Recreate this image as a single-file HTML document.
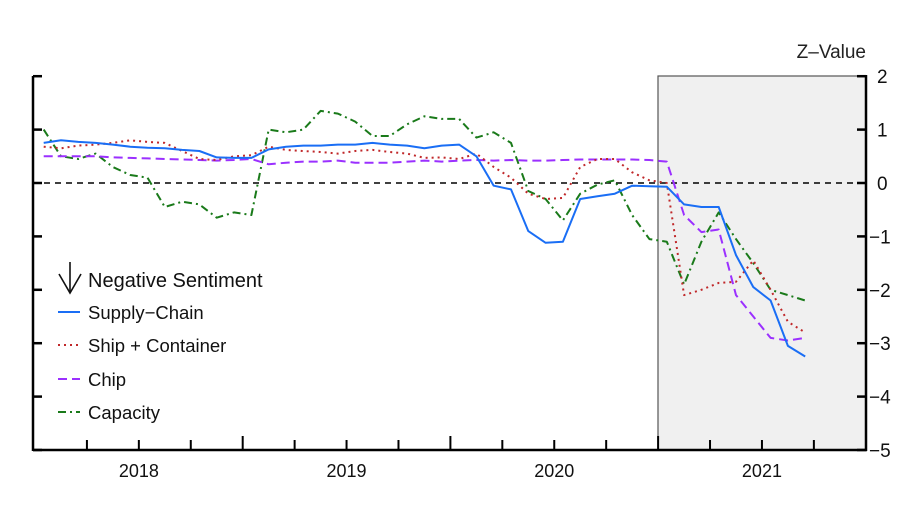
<!DOCTYPE html>
<html><head><meta charset="utf-8"><style>
html,body{margin:0;padding:0;background:#fff;}
svg{display:block;font-family:"Liberation Sans",Arial,sans-serif;}
</style></head><body>
<svg id="chart" width="918" height="517" viewBox="0 0 918 517">
<rect x="658" y="76" width="208" height="374" fill="#f0f0f0" stroke="#555" stroke-width="1.2"/>
<g id="axes"></g>
<g id="series"></g>
<text x="866" y="58" text-anchor="end" font-size="19" fill="#222">Z–Value</text>
<g>
<g stroke="#111" stroke-width="1.6" fill="none">
<line x1="70" y1="262" x2="70" y2="293"/>
<polyline points="59,274 70,293 81,274"/>
</g>
<text x="88" y="287" font-size="20" fill="#111">Negative Sentiment</text>
<line x1="58" y1="312" x2="80" y2="312" stroke="#1a6ef5" stroke-width="2"/>
<text x="88" y="319" font-size="18.5" fill="#111">Supply−Chain</text>
<line x1="58" y1="345" x2="80" y2="345" stroke="#c0282a" stroke-width="2" stroke-dasharray="2,4"/>
<text x="88" y="352" font-size="18.5" fill="#111">Ship + Container</text>
<line x1="58" y1="379" x2="80" y2="379" stroke="#9b30ff" stroke-width="2" stroke-dasharray="9,5"/>
<text x="88" y="386" font-size="18.5" fill="#111">Chip</text>
<line x1="58" y1="412" x2="80" y2="412" stroke="#1a7a1a" stroke-width="2" stroke-dasharray="8,4,2,4"/>
<text x="88" y="419" font-size="18.5" fill="#111">Capacity</text>
</g>
</svg>
<script>
const months = ["2018-01","2018-02","2018-03","2018-04","2018-05","2018-06","2018-07","2018-08","2018-09","2018-10","2018-11","2018-12",
"2019-01","2019-02","2019-03","2019-04","2019-05","2019-06","2019-07","2019-08","2019-09","2019-10","2019-11","2019-12",
"2020-01","2020-02","2020-03","2020-04","2020-05","2020-06","2020-07","2020-08","2020-09","2020-10","2020-11","2020-12",
"2021-01","2021-02","2021-03","2021-04","2021-05","2021-06","2021-07","2021-08","2021-09"];
const supplyChain = [0.75,0.8,0.77,0.75,0.72,0.68,0.66,0.65,0.62,0.6,0.48,0.47,0.47,0.63,0.68,0.7,0.7,0.72,0.72,0.75,0.72,0.7,0.65,0.7,0.72,0.5,-0.05,-0.12,-0.9,-1.12,-1.1,-0.3,-0.25,-0.2,-0.05,-0.06,-0.07,-0.4,-0.45,-0.45,-1.35,-1.95,-2.2,-3.05,-3.25];
const shipContainer = [0.68,0.65,0.7,0.72,0.75,0.8,0.77,0.75,0.6,0.45,0.43,0.5,0.52,0.68,0.62,0.6,0.58,0.55,0.6,0.62,0.58,0.55,0.47,0.48,0.45,0.55,0.3,0.1,-0.2,-0.3,-0.28,0.3,0.45,0.45,0.2,0.05,0.0,-2.1,-2.0,-1.87,-1.85,-1.45,-2.0,-2.6,-2.8];
const chip = [0.5,0.5,0.5,0.5,0.48,0.47,0.46,0.45,0.44,0.43,0.42,0.43,0.45,0.35,0.38,0.4,0.4,0.42,0.38,0.38,0.38,0.4,0.42,0.4,0.42,0.43,0.42,0.43,0.42,0.42,0.43,0.44,0.44,0.44,0.44,0.43,0.4,-0.6,-0.92,-0.87,-2.1,-2.5,-2.9,-2.95,-2.9];
const capacity = [1.0,0.5,0.45,0.55,0.3,0.15,0.1,-0.45,-0.35,-0.4,-0.65,-0.55,-0.6,1.0,0.95,1.0,1.35,1.3,1.15,0.88,0.88,1.1,1.25,1.2,1.2,0.85,0.95,0.75,-0.15,-0.3,-0.7,-0.2,-0.03,0.05,-0.6,-1.05,-1.1,-1.9,-1.1,-0.55,-1.05,-1.5,-2.0,-2.1,-2.2];
const yTicks = [2,1,0,-1,-2,-3,-4,-5];
const yearLabels = ["2018","2019","2020","2021"];

const NS="http://www.w3.org/2000/svg";
const X0=35, YW=207.7, Y0=183, UNIT=53.4;
function xScale(t){return X0+(t-2018)*YW;}
function yScale(v){return Y0-v*UNIT;}
function monthT(s){const p=s.split("-");return +p[0]+(+p[1]-0.5)/12;}
function mk(tag,attrs,parent){const e=document.createElementNS(NS,tag);for(const k in attrs)e.setAttribute(k,attrs[k]);parent.appendChild(e);return e;}
const axes=document.getElementById("axes"), series=document.getElementById("series");
const L=33,R=866,T=76,B=450;
let z=mk("line",{x1:L,x2:R,y1:yScale(0),y2:yScale(0),stroke:"#000","stroke-width":1.6,"stroke-dasharray":"6,5"},axes);


let la=mk("line",{x1:L,x2:L,y1:T,y2:B+1,stroke:"#000","stroke-width":2.5},axes);


let ra=mk("line",{x1:R,x2:R,y1:T-1,y2:B+1,stroke:"#000","stroke-width":2.5},axes);


let ba=mk("line",{x1:L,x2:R+1,y1:B,y2:B,stroke:"#000","stroke-width":2.5},axes);


yTicks.forEach(v=>{
  const y=yScale(v);
  const t1=mk("line",{x1:R-9,x2:R,y1:y,y2:y,stroke:"#000","stroke-width":2.5},axes);
  
  
  const t2=mk("line",{x1:L,x2:L+9,y1:y,y2:y,stroke:"#000","stroke-width":2.5},axes);
  
  
  const lb=mk("text",{x:(v<0?R+3:R+11),y:y+7,"font-size":19,fill:"#111"},axes);
  lb.textContent=(v<0?"−"+Math.abs(v):String(v));
  
  
});
for(let q=1;q<16;q++){
  const x=xScale(2018+q/4), big=q%4===0;
  const tk=mk("line",{x1:x,x2:x,y1:B-(big?14:10),y2:B,stroke:"#000","stroke-width":2},axes);
  
  
}
yearLabels.forEach((yr,i)=>{
  const lb=mk("text",{x:xScale(2018+i+0.5),y:477,"text-anchor":"middle","font-size":18,fill:"#111"},axes);
  lb.textContent=yr;
  
  
});
function drawLine(vals,color,dash,name){
  const d=vals.map((v,i)=>(i?"L":"M")+xScale(monthT(months[i])).toFixed(1)+","+yScale(v).toFixed(1)).join(" ");
  const p=mk("path",{d:d,fill:"none",stroke:color,"stroke-width":2,"stroke-dasharray":dash,"stroke-linejoin":"round"},series);
  
  
}
drawLine(capacity,"#1a7a1a","8,4,2,4","series-capacity");
drawLine(chip,"#9b30ff","9,5","series-chip");
drawLine(shipContainer,"#c0282a","2,4","series-ship-container");
drawLine(supplyChain,"#1a6ef5","none","series-supply-chain");
</script>
</body></html>
